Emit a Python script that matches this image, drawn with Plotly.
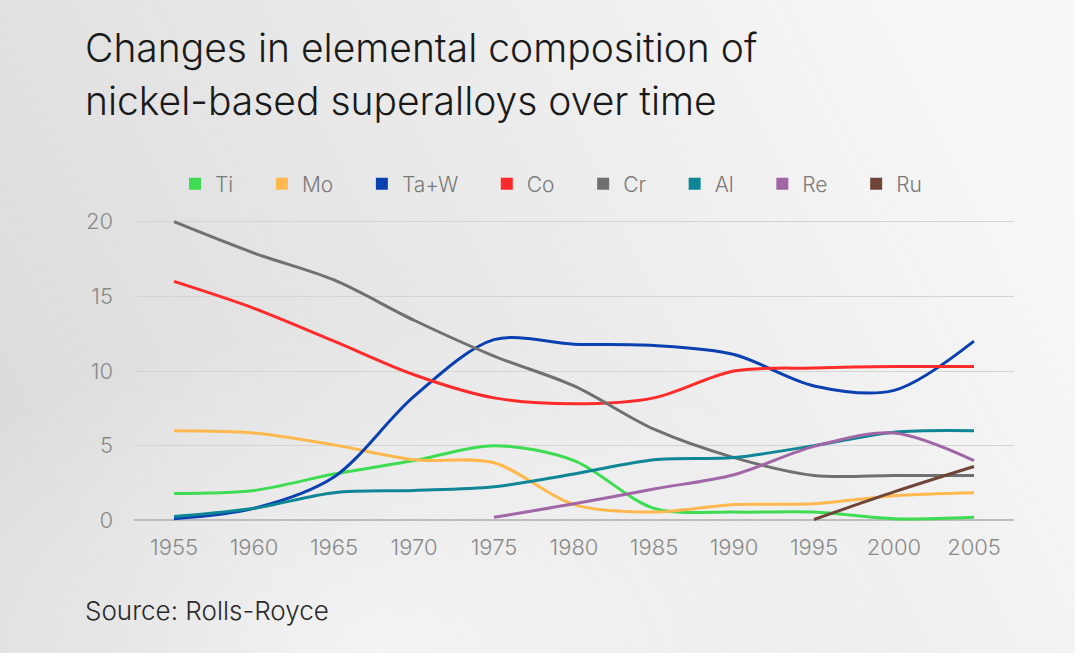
import base64
import plotly.graph_objects as go

years = [1955, 1960, 1965, 1970, 1975, 1980, 1985, 1990, 1995, 2000, 2005]

ti = [1.8, 2.0, 3.1, 4.0, 5.0, 4.0, 0.8, 0.55, 0.55, 0.1, 0.2]
mo = [6.0, 5.85, 5.05, 4.05, 3.85, 1.05, 0.55, 1.05, 1.1, 1.65, 1.85]
taw = [0.1, 0.8, 2.9, 8.3, 12.1, 11.8, 11.7, 11.1, 9.0, 8.7, 12.0]
co = [16.0, 14.2, 12.0, 9.75, 8.2, 7.8, 8.2, 10.0, 10.2, 10.3, 10.3]
cr = [20.0, 17.9, 16.1, 13.4, 11.0, 9.0, 6.1, 4.2, 3.0, 3.0, 3.0]
al = [0.25, 0.8, 1.85, 2.0, 2.25, 3.1, 4.05, 4.2, 5.0, 5.9, 6.0]
re_ = [None, None, None, None, 0.2, 1.1, 2.1, 3.05, 4.95, 5.85, 4.0]
ru = [None, None, None, None, None, None, None, None, 0.05, 1.9, 3.6]

series_names = ["Ti", "Mo", "Ta+W", "Co", "Cr", "Al", "Re", "Ru"]
series_values = [ti, mo, taw, co, cr, al, re_, ru]
series_colors = ["#3ddc52", "#ffb84d", "#0a40b0", "#ff2b2b",
                 "#707070", "#0e8695", "#a066a6", "#6e4538"]

title_lines = ["Changes in elemental composition of",
               "nickel-based superalloys over time"]
source_text = "Source: Rolls-Royce"
y_ticks = [0, 5, 10, 15, 20]

FONT = "Inter"
W, H = 1075, 653
L, R, T, B = 134, 61, 218, 129

fig = go.Figure()
for name, vals, col in zip(series_names, series_values, series_colors):
    fig.add_trace(go.Scatter(
        x=years, y=vals, mode="lines", name=name, showlegend=False,
        line=dict(color=col, width=3, shape="spline", smoothing=0.9),
        connectgaps=False, hoverinfo="x+y+name"))
for name, col in zip(series_names, series_colors):
    fig.add_trace(go.Scatter(
        x=[None], y=[None], mode="markers",
        name=name + "\u00a0\u00a0\u00a0\u00a0",
        marker=dict(symbol="square", size=10, color=col), showlegend=True))

svg = f'''<svg xmlns="http://www.w3.org/2000/svg" width="{W}" height="{H}">
<defs>
<linearGradient id="g" x1="0" y1="0.6" x2="1" y2="0.3">
<stop offset="0" stop-color="#dcdcdc"/>
<stop offset="0.45" stop-color="#e9e9e9"/>
<stop offset="1" stop-color="#f8f8f8"/>
</linearGradient>
<radialGradient id="r" cx="0.35" cy="1.0" r="0.5">
<stop offset="0" stop-color="#ffffff" stop-opacity="0.6"/>
<stop offset="1" stop-color="#ffffff" stop-opacity="0"/>
</radialGradient>
</defs>
<rect width="{W}" height="{H}" fill="url(#g)"/>
<rect width="{W}" height="{H}" fill="url(#r)"/>
</svg>'''
src = "data:image/svg+xml;base64," + base64.b64encode(svg.encode()).decode()

pw = W - L - R
ph = H - T - B
fig.add_layout_image(dict(
    source=src, xref="paper", yref="paper",
    x=-L / pw, y=1 + T / ph, sizex=W / pw, sizey=H / ph,
    xanchor="left", yanchor="top", sizing="stretch", layer="below"))

def py(px_from_top):
    return 1 - (px_from_top - T) / ph

def px(px_from_left):
    return (px_from_left - L) / pw

fig.add_annotation(text=title_lines[0], xref="paper", yref="paper",
                   x=px(83), y=py(47), xanchor="left", yanchor="middle",
                   showarrow=False,
                   font=dict(family=FONT, size=39, weight=300, color="#1a1a1a"))
fig.add_annotation(text=title_lines[1], xref="paper", yref="paper",
                   x=px(83), y=py(100), xanchor="left", yanchor="middle",
                   showarrow=False,
                   font=dict(family=FONT, size=39, weight=300, color="#1a1a1a"))
fig.add_annotation(text=source_text, xref="paper", yref="paper",
                   x=px(83), y=py(610), xanchor="left", yanchor="middle",
                   showarrow=False,
                   font=dict(family=FONT, size=26, weight=300, color="#2a2a2a"))

fig.update_layout(
    width=W, height=H,
    margin=dict(l=L, r=R, t=T, b=B, pad=0, autoexpand=False),
    paper_bgcolor="rgba(0,0,0,0)", plot_bgcolor="rgba(0,0,0,0)",
    font=dict(family=FONT, color="#888888"),
    legend=dict(orientation="h", xref="paper", yref="paper",
                x=px(175), y=py(184), xanchor="left", yanchor="middle",
                font=dict(family=FONT, size=21, weight=300, color="#7a7a7a"),
                bgcolor="rgba(0,0,0,0)", itemsizing="constant"),
    xaxis=dict(range=[1952.5, 2007.5], tickvals=years,
               ticktext=[str(y) for y in years], showgrid=False,
               zeroline=False, showline=False, ticks="", automargin=False,
               ticklabelstandoff=8,
               tickfont=dict(family=FONT, size=22, weight=300, color="#8a8a8a")),
    yaxis=dict(range=[-0.25, 20.25], tickvals=y_ticks, showgrid=True,
               gridcolor="#d4d4d4", gridwidth=1, zeroline=True,
               zerolinecolor="#bdbdbd", zerolinewidth=2, showline=False,
               ticks="", ticklabelstandoff=20, automargin=False,
               tickfont=dict(family=FONT, size=22, weight=300, color="#8a8a8a")),
)

fig.write_html("out.html", config={"displayModeBar": False},
               post_script="document.body.style.margin='0';")
